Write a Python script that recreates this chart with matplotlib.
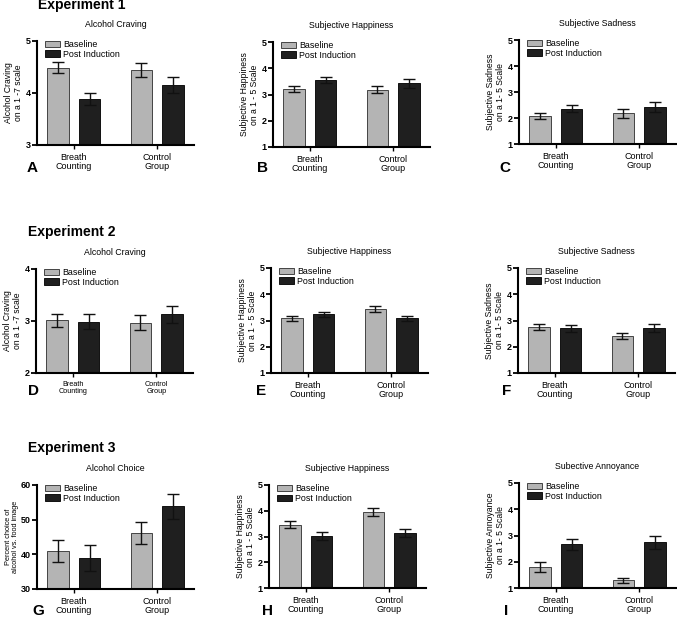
import matplotlib
matplotlib.use("Agg")
import matplotlib.pyplot as plt
import numpy as np

plt.rcParams['font.family'] = ['Liberation Sans', 'DejaVu Sans']

W, H = 677, 617

groups = ["Breath\nCounting", "Control\nGroup"]
series = ["Baseline", "Post Induction"]

# Experiment 1
a_base, a_base_err = [4.49, 4.44], [0.11, 0.14]
a_post, a_post_err = [3.88, 4.15], [0.12, 0.15]
b_base, b_base_err = [3.22, 3.19], [0.12, 0.12]
b_post, b_post_err = [3.55, 3.43], [0.10, 0.17]
c_base, c_base_err = [2.07, 2.18], [0.12, 0.17]
c_post, c_post_err = [2.36, 2.43], [0.13, 0.18]
# Experiment 2
d_base, d_base_err = [3.01, 2.97], [0.13, 0.14]
d_post, d_post_err = [2.99, 3.13], [0.14, 0.16]
e_base, e_base_err = [3.09, 3.44], [0.10, 0.10]
e_post, e_post_err = [3.23, 3.08], [0.11, 0.11]
f_base, f_base_err = [2.75, 2.41], [0.13, 0.10]
f_post, f_post_err = [2.70, 2.71], [0.12, 0.15]
# Experiment 3
g_base, g_base_err = [41.0, 46.2], [3.1, 3.2]
g_post, g_post_err = [39.0, 53.8], [3.8, 3.7]
h_base, h_base_err = [3.46, 3.95], [0.14, 0.15]
h_post, h_post_err = [3.03, 3.15], [0.16, 0.16]
i_base, i_base_err = [1.80, 1.30], [0.18, 0.10]
i_post, i_post_err = [2.66, 2.74], [0.21, 0.25]

titles = ["Alcohol Craving", "Subjective Happiness", "Subjective Sadness",
          "Alcohol Craving", "Subjective Happiness", "Subjective Sadness",
          "Alcohol Choice", "Subjective Happiness", "Subective Annoyance"]
ylabels = ["Alcohol Craving\non a 1 -7 scale", "Subjective Happiness\non a 1 - 5 Scale",
           "Subjective Sadness\non a 1- 5 Scale",
           "Alcohol Craving\non a 1 -7 scale", "Subjective Happiness\non a 1 - 5 Scale",
           "Subjective Sadness\non a 1- 5 Scale",
           "Percent choice of\nalcohol vs. food image", "Subjective Happiness\non a 1 - 5 Scale",
           "Subjective Annoyance\non a 1- 5 Scale"]
letters = list("ABCDEFGHI")
yranges = [(3, 5), (1, 5), (1, 5), (2, 4), (1, 5), (1, 5), (30, 60), (1, 5), (1, 5)]
yticks = [[3, 4, 5], [1, 2, 3, 4, 5], [1, 2, 3, 4, 5], [2, 3, 4], [1, 2, 3, 4, 5],
          [1, 2, 3, 4, 5], [30, 40, 50, 60], [1, 2, 3, 4, 5], [1, 2, 3, 4, 5]]
data = [(a_base, a_base_err, a_post, a_post_err), (b_base, b_base_err, b_post, b_post_err),
        (c_base, c_base_err, c_post, c_post_err), (d_base, d_base_err, d_post, d_post_err),
        (e_base, e_base_err, e_post, e_post_err), (f_base, f_base_err, f_post, f_post_err),
        (g_base, g_base_err, g_post, g_post_err), (h_base, h_base_err, h_post, h_post_err),
        (i_base, i_base_err, i_post, i_post_err)]

# pixel boxes: left, top, bottom ; letter pos x, baseline y
boxes = [(37, 41, 145), (273, 42, 147), (519, 40, 144),
         (36, 269, 373), (271, 268, 373), (518, 268, 373),
         (37, 485, 589), (269, 485, 588), (519, 483, 588)]
letter_pos = [(27, 172), (257, 172), (499, 172),
              (28, 395), (256, 395), (502, 395),
              (32, 615), (262, 615), (504, 615)]
AX_W = 157

fig = plt.figure(figsize=(W / 100, H / 100), dpi=100)

x = np.arange(len(groups))
bw, off = 0.26, 0.19
for k in range(9):
    l, t, b = boxes[k]
    ax = fig.add_axes([l / W, 1 - b / H, AX_W / W, (b - t) / H])
    base, base_err, post, post_err = data[k]
    ax.bar(x - off, base, bw, color='#b4b4b4', edgecolor='#444444', linewidth=0.7,
           label=series[0])
    ax.bar(x + off, post, bw, color='#1f1f1f', edgecolor='#111111', linewidth=0.7,
           label=series[1])
    ax.errorbar(x - off, base, yerr=base_err, fmt='none', ecolor='#111111',
                elinewidth=1, capsize=4.5, capthick=1)
    ax.errorbar(x + off, post, yerr=post_err, fmt='none', ecolor='#111111',
                elinewidth=1, capsize=4.5, capthick=1)
    ax.set_xlim(-0.44, 1.44)
    ax.set_ylim(*yranges[k])
    ax.set_yticks(yticks[k])
    ax.set_yticklabels([str(v) for v in yticks[k]], fontsize=6.5, fontweight='bold')
    ax.set_xticks(x)
    ax.set_xticklabels(groups, fontsize=5.2 if k == 3 else 6.5, linespacing=1.0)
    for s in ['top', 'right']:
        ax.spines[s].set_visible(False)
    for s in ['left', 'bottom']:
        ax.spines[s].set_linewidth(1.5)
    ax.tick_params(axis='y', length=3.6, width=1.3, pad=1)
    ax.tick_params(axis='x', length=3, width=1.0, pad=3)
    ax.set_title(titles[k], fontsize=6.3, pad=10)
    if k == 6:
        ax.set_ylabel(ylabels[k], fontsize=5.3, linespacing=1.05, labelpad=1)
    else:
        ax.set_ylabel(ylabels[k], fontsize=6.2, linespacing=1.05, labelpad=2)
    ax.legend(loc='upper left', bbox_to_anchor=(0.025, 1.05), frameon=False,
              fontsize=6.4, handlelength=1.6, handleheight=0.7, labelspacing=0.05,
              borderpad=0, handletextpad=0.4)
    fig.text(letter_pos[k][0] / W, 1 - letter_pos[k][1] / H, letters[k],
             fontsize=11, fontweight='bold', va='baseline', ha='left')

fig.text(38 / W, 1 - 9.5 / H, "Experiment 1", fontsize=10, fontweight='bold', va='baseline')
fig.text(28 / W, 1 - 236 / H, "Experiment 2", fontsize=10, fontweight='bold', va='baseline')
fig.text(28 / W, 1 - 452 / H, "Experiment 3", fontsize=10, fontweight='bold', va='baseline')

fig.savefig("out.png", dpi=100)
